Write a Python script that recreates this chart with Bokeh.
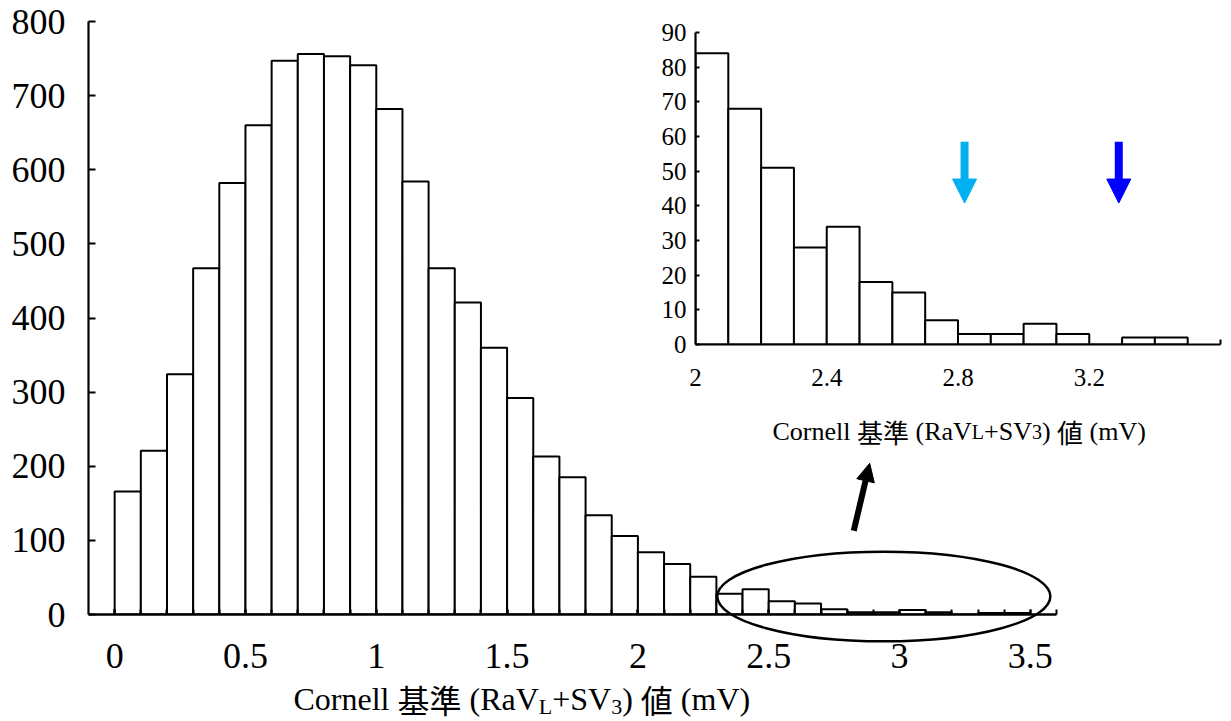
from bokeh.plotting import figure
from bokeh.models import Range1d, FixedTicker, Label, Arrow, NormalHead, GridBox
from bokeh.embed import file_html
from bokeh.resources import INLINE

# Cornell voltage histogram, 0.1 mV bins (left edge of each bin, in mV)
bin_left = [0.0, 0.1, 0.2, 0.3, 0.4, 0.5, 0.6, 0.7, 0.8, 0.9,
            1.0, 1.1, 1.2, 1.3, 1.4, 1.5, 1.6, 1.7, 1.8, 1.9,
            2.0, 2.1, 2.2, 2.3, 2.4, 2.5, 2.6, 2.7, 2.8, 2.9,
            3.0, 3.1, 3.2, 3.3, 3.4]
counts = [166, 221, 324, 467, 582, 660, 747, 756, 753, 741,
          682, 584, 467, 421, 360, 292, 213, 185, 134, 106,
          84, 68, 51, 28, 34, 18, 15, 7, 3, 3,
          6, 3, 0, 2, 2]
bin_width = 0.1

main_x_ticks = [0, 0.5, 1, 1.5, 2, 2.5, 3, 3.5]
main_x_labels = ["0", "0.5", "1", "1.5", "2", "2.5", "3", "3.5"]
main_x_minor = bin_left + [3.5, 3.6]
main_y_ticks = [0, 100, 200, 300, 400, 500, 600, 700, 800]

inset_start = 2.0
inset_x_ticks = [2.0, 2.4, 2.8, 3.2]
inset_x_labels = ["2", "2.4", "2.8", "3.2"]
inset_y_ticks = [0, 10, 20, 30, 40, 50, 60, 70, 80, 90]

# threshold markers in the tail plot
marker_x = [2.82, 3.29]
marker_colors = ["#00B0F0", "#0000FF"]

W, H = 1231, 721
SERIF = "Liberation Serif"
CJK = "Noto Sans CJK JP"

# main frame, in canvas pixels
M_L, M_R, M_T, M_B = 88, 1056, 21, 614
M_XR = (-0.1, 3.6)
M_YR = (0, 800)

# inset frame, in canvas pixels
I_L, I_R, I_T, I_B = 695, 1220, 32, 344


def style_axis(ax, size, standoff, line_w=2.2):
    ax.axis_line_width = line_w
    ax.axis_line_color = "black"
    ax.major_tick_line_color = "black"
    ax.minor_tick_line_color = "black"
    ax.major_tick_line_width = 2
    ax.minor_tick_line_width = 2
    ax.major_tick_out = 0
    ax.minor_tick_out = 0
    ax.major_label_text_font = SERIF
    ax.major_label_text_font_size = f"{size}px"
    ax.major_label_text_color = "black"
    ax.major_label_standoff = standoff


# ---------------- main histogram ----------------
main = figure(width=W, height=H, x_range=Range1d(*M_XR), y_range=Range1d(*M_YR),
              output_backend="svg", toolbar_location=None, frame_align=False,
              min_border_left=M_L, min_border_right=W - M_R,
              min_border_top=M_T, min_border_bottom=H - M_B)
main.grid.visible = False
main.outline_line_color = None
main.background_fill_color = "white"
main.border_fill_color = "white"

main.quad(left=bin_left, right=[b + bin_width for b in bin_left], bottom=0, top=counts,
          fill_color="white", line_color="black", line_width=2)

xa = main.xaxis[0]
xa.ticker = FixedTicker(ticks=main_x_ticks, minor_ticks=main_x_minor)
xa.major_label_overrides = dict(zip(main_x_ticks, main_x_labels))
style_axis(xa, 36, 29, 2.5)
xa.major_tick_in = 5
xa.minor_tick_in = 5

ya = main.yaxis[0]
ya.ticker = FixedTicker(ticks=main_y_ticks, minor_ticks=[])
style_axis(ya, 36, 23)
ya.major_tick_in = 7
ya.minor_tick_in = 0

main.add_layout(Arrow(end=NormalHead(size=18, fill_color="black", line_color="black", line_width=1),
                      x_start=2.825, y_start=113, x_end=2.886, y_end=204,
                      line_width=6, line_color="black"))

# ---------------- overlay: ellipse and axis titles ----------------
px_x = (M_XR[1] - M_XR[0]) / (M_R - M_L)
px_y = (M_YR[1] - M_YR[0]) / (M_B - M_T)
over = figure(width=W, height=H,
              x_range=Range1d(M_XR[0] - M_L * px_x, M_XR[0] + (W - M_L) * px_x),
              y_range=Range1d(M_YR[0] - (H - M_B) * px_y, M_YR[0] + M_B * px_y),
              x_axis_type=None, y_axis_type=None, frame_align=False,
              output_backend="svg", toolbar_location=None, min_border=0)
over.grid.visible = False
over.outline_line_color = None
over.background_fill_color = None
over.border_fill_color = None

over.ellipse(x=2.94, y=24.3, width=1.273, height=121, fill_color=None,
             line_color="black", line_width=2.5)

EM = {"C": 667, "o": 500, "r": 333, "n": 500, "e": 444, "l": 278, " ": 250,
      "(": 333, ")": 333, "R": 667, "a": 444, "V": 722, "L": 611, "+": 564,
      "S": 556, "3": 500, "m": 778}


def width_of(s, size):
    return sum(EM.get(c, 1000) for c in s) * size / 1000.0


def add_title(fig, x0, baseline, size, small, drop, pieces):
    x = x0
    for text, is_small in pieces:
        sz = small if is_small else size
        lead = len(text) - len(text.lstrip(" "))
        body = text.strip(" ")
        font = CJK if any(ord(c) > 0x2E80 for c in body) else SERIF
        y = baseline + (drop if is_small else 0)
        if body:
            fig.add_layout(Label(x=x + width_of(" " * lead, sz), y=H - y,
                                 x_units="screen", y_units="screen", text=body,
                                 text_font=font, text_font_size=f"{sz}px",
                                 text_color="black", text_baseline="alphabetic",
                                 text_align="left"))
        x += width_of(text, sz)


title_pieces = [("Cornell ", False), ("基準", False), (" (RaV", False), ("L", True),
                ("+SV", False), ("3", True), (") ", False), ("値", False), (" (mV)", False)]
add_title(over, 293, 698, 32, 22, 8, title_pieces)
add_title(over, 772, 431, 26, 20, 0, title_pieces)

# ---------------- inset: tail of the distribution ----------------
inset = figure(width=W, height=H, x_range=Range1d(inset_start, 3.6), y_range=Range1d(0, 90),
               output_backend="svg", toolbar_location=None, frame_align=False,
               min_border_left=I_L, min_border_right=W - I_R,
               min_border_top=I_T, min_border_bottom=H - I_B)
inset.grid.visible = False
inset.outline_line_color = None
inset.background_fill_color = None
inset.border_fill_color = None

tail_left = [b for b in bin_left if b >= inset_start - 1e-9]
tail_counts = [c for b, c in zip(bin_left, counts) if b >= inset_start - 1e-9]
inset.quad(left=tail_left, right=[b + bin_width for b in tail_left], bottom=0, top=tail_counts,
           fill_color="white", line_color="black", line_width=2)

ixa = inset.xaxis[0]
ixa.ticker = FixedTicker(ticks=inset_x_ticks, minor_ticks=[3.6])
ixa.major_label_overrides = dict(zip(inset_x_ticks, inset_x_labels))
style_axis(ixa, 25, 24, 2.2)
ixa.major_tick_in = 0
ixa.minor_tick_in = 5

iya = inset.yaxis[0]
iya.ticker = FixedTicker(ticks=inset_y_ticks, minor_ticks=[])
style_axis(iya, 25, 9, 2.2)
iya.major_tick_in = 4
iya.minor_tick_in = 0

for mx, mc in zip(marker_x, marker_colors):
    inset.add_layout(Arrow(end=NormalHead(size=24, fill_color=mc, line_color=mc, line_width=1),
                           x_start=mx, y_start=58.5, x_end=mx, y_end=40.8,
                           line_width=8, line_color=mc))

layout = GridBox(children=[(main, 0, 0), (over, 0, 0), (inset, 0, 0)])

open("out.html", "w").write(file_html(layout, INLINE))
